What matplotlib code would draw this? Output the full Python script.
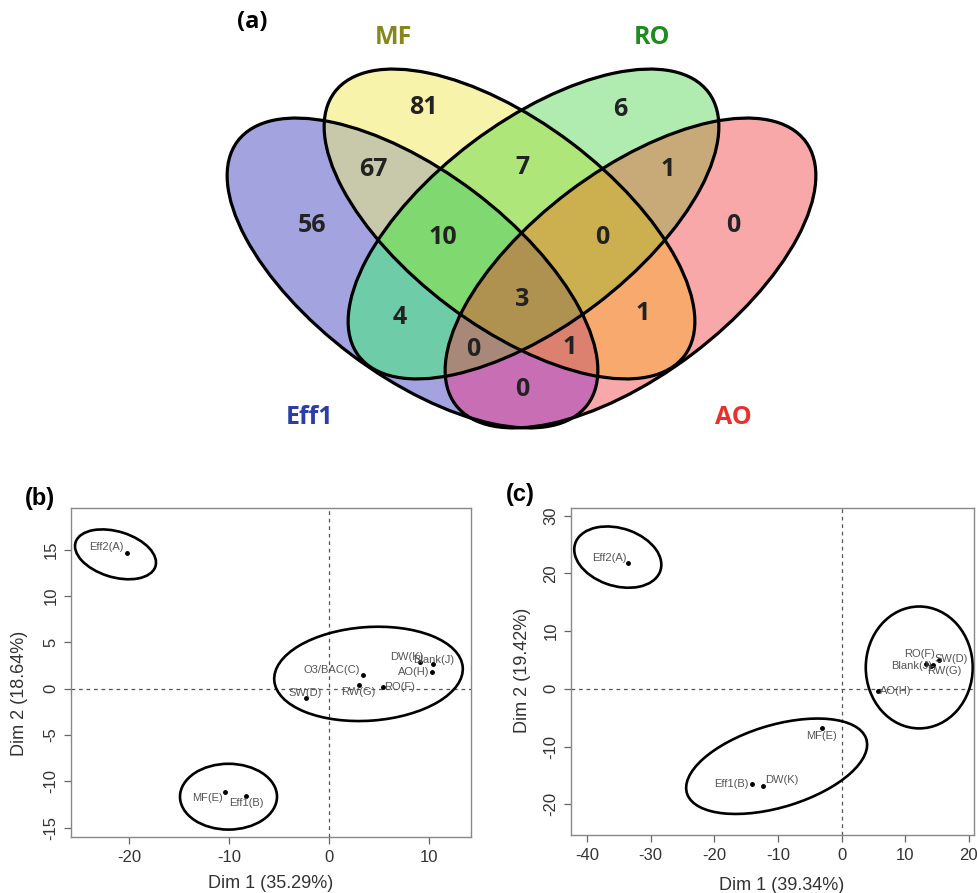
import matplotlib
matplotlib.use("Agg")
import matplotlib.pyplot as plt
from matplotlib.patches import Ellipse
from matplotlib.colors import to_rgba
import numpy as np

# ---------------- (a) Venn: counts per region ----------------
venn_sets = ["Eff1", "MF", "RO", "AO"]
venn_regions = ["Eff1", "MF", "RO", "AO",
                "Eff1&MF", "MF&RO", "RO&AO",
                "Eff1&MF&RO", "MF&RO&AO", "Eff1&RO", "MF&AO",
                "Eff1&MF&RO&AO", "Eff1&RO&AO", "Eff1&MF&AO", "Eff1&AO"]
venn_counts = [56, 81, 6, 0, 67, 7, 1, 10, 0, 4, 1, 3, 0, 1, 0]

# ---------------- (b) PCA ----------------
b_labels = ["Eff2(A)", "O3/BAC(C)", "DW(K)", "Blank(J)", "AO(H)",
            "RW(G)", "RO(F)", "SW(D)", "MF(E)", "Eff1(B)"]
b_x = [-20.2, 3.4, 9.1, 10.45, 10.3, 3.0, 5.45, -2.3, -10.35, -8.25]
b_y = [14.6, 1.5, 2.9, 2.65, 1.85, 0.4, 0.2, -1.0, -11.1, -11.6]
b_xlabel = "Dim 1 (35.29%)"
b_ylabel = "Dim 2 (18.64%)"

# ---------------- (c) PCA ----------------
c_labels = ["Eff2(A)", "MF(E)", "Eff1(B)", "DW(K)", "RO(F)",
            "SW(D)", "Blank(J)", "RW(G)", "AO(H)"]
c_x = [-33.5, -3.15, -14.1, -12.4, 14.35, 15.3, 13.2, 14.0, 5.65]
c_y = [21.8, -6.85, -16.5, -16.8, 4.2, 5.0, 4.3, 3.9, -0.4]
c_xlabel = "Dim 1 (39.34%)"
c_ylabel = "Dim 2 (19.42%)"

W, H = 978, 893
fig = plt.figure(figsize=(W / 100, H / 100), dpi=100)
fig.patch.set_facecolor("white")

VENN_FONT = ["Open Sans", "DejaVu Sans"]
R_FONT = ["Liberation Sans", "DejaVu Sans"]

# --- Venn, drawn in pixel coordinates ---
ax0 = fig.add_axes([0, 0, 1, 1])

ell_centres = [(412.5, 273), (509.5, 224), (533.5, 224), (630.5, 273)]
ell_angles = [37, 37, -37, -37]
EA, EB = 219, 102

# colour of every region, keyed by membership (Eff1, MF, RO, AO)
region_cols = {
    "1000": "#a3a3e0", "0100": "#f7f3aa", "0010": "#b0ebb0", "0001": "#f8a8a8",
    "1100": "#c8c8aa", "0110": "#aee67a", "0011": "#c8aa78",
    "1110": "#80d870", "0111": "#ccb050", "1010": "#6ecca8", "0101": "#f8aa6e",
    "1111": "#b09250", "1011": "#a88878", "1101": "#dc8070", "1001": "#c86eb4",
}
gx, gy = np.meshgrid(np.arange(W) + 0.5, np.arange(460) + 0.5)
masks = []
for (cx, cy), ang in zip(ell_centres, ell_angles):
    t = np.deg2rad(ang)
    dx, dy = gx - cx, gy - cy
    u = dx * np.cos(t) + dy * np.sin(t)
    v = -dx * np.sin(t) + dy * np.cos(t)
    masks.append((u / EA) ** 2 + (v / EB) ** 2 <= 1)
img = np.zeros(gx.shape + (4,))
for key, col in region_cols.items():
    sel = np.ones(gx.shape, bool)
    for m, bit in zip(masks, key):
        sel &= m if bit == "1" else ~m
    img[sel] = to_rgba(col)
ax0.imshow(img, extent=(0, W, 460, 0), interpolation="nearest",
           aspect="auto", zorder=0)
for (cx, cy), ang in zip(ell_centres, ell_angles):
    ax0.add_patch(Ellipse((cx, cy), 2 * EA, 2 * EB, angle=ang, fill=False,
                          edgecolor="black", linewidth=2.3, zorder=2))
ax0.set_xlim(0, W)
ax0.set_ylim(H, 0)
ax0.axis("off")

count_pos = [(312, 225), (423, 108), (620, 110), (733, 225),
             (373, 170), (522, 167), (668, 170),
             (443, 238), (602, 238), (400, 317), (643, 313),
             (522, 300), (473, 350), (570, 348), (522, 390)]
for n, (px, py) in zip(venn_counts, count_pos):
    ax0.text(px, py, str(n), ha="center", va="center", fontsize=18,
             fontweight="bold", color="#222222", family=VENN_FONT, zorder=3)

set_pos = [(310, 418), (393, 37), (652, 37), (733, 418)]
set_cols = ["#2b3ea8", "#86861c", "#1e8c1e", "#e8302c"]
for name, (px, py), col in zip(venn_sets, set_pos, set_cols):
    ax0.text(px, py, name, ha="center", va="center", fontsize=18,
             fontweight="bold", color=col, family=VENN_FONT)
ax0.text(252, 22, "(a)", ha="center", va="center", fontsize=17,
         fontweight="bold", color="black", family=VENN_FONT)


def pca_panel(rect, xs, ys, labels, offsets, ellipses, xlim, ylim,
              xticks, yticks):
    ax = fig.add_axes(rect)
    ax.set_xlim(*xlim)
    ax.set_ylim(*ylim)
    ax.axhline(0, color="#555555", lw=0.9, ls=(0, (3, 3)), zorder=1)
    ax.axvline(0, color="#555555", lw=0.9, ls=(0, (3, 3)), zorder=1)
    for (cx, cy, w, h, ang) in ellipses:
        ax.add_patch(Ellipse((cx, cy), w, h, angle=ang, fill=False,
                             edgecolor="black", linewidth=1.9, zorder=2))
    ax.plot(xs, ys, "o", color="black", markersize=2.5, zorder=3)
    for x, y, lab, (dx, dy, ha) in zip(xs, ys, labels, offsets):
        ax.annotate(lab, (x, y), xytext=(dx, dy), textcoords="offset pixels",
                    ha=ha, va="center", fontsize=8, color="#555555",
                    family=R_FONT, zorder=4)
    ax.set_xticks(xticks)
    ax.set_yticks(yticks)
    ax.set_xticklabels([str(t) for t in xticks], family=R_FONT)
    ax.set_yticklabels([str(t) for t in yticks], family=R_FONT,
                       rotation=90, va="center")
    ax.tick_params(direction="out", length=5, width=0.9, color="#666666",
                   labelsize=12, labelcolor="#333333", pad=4)
    for sp in ax.spines.values():
        sp.set_color("#888888")
        sp.set_linewidth(1.0)
    return ax


# (b)
b_offsets = [(-3, 6, "right"), (-3, 5, "right"), (4, 5, "right"),
             (0, 4, "center"), (-3, 0, "right"), (-1, -7, "center"),
             (1, 0, "left"), (-1, 5, "center"), (-3, -6, "right"),
             (0, -7, "center")]
b_ell = [(-21.35, 14.5, 8.4, 4.9, -19), (3.95, 1.6, 18.9, 10.1, 4.5),
         (-10.05, -11.65, 9.7, 7.1, 0)]
pca_panel([71 / W, 1 - 837 / H, 400 / W, 329 / H], b_x, b_y, b_labels,
          b_offsets, b_ell, (-25.8, 14.2), (-16.0, 19.5),
          [-20, -10, 0, 10], [-15, -10, -5, 0, 5, 10, 15])
fig.text(271 / W, 1 - 883 / H, b_xlabel, ha="center", va="center",
         fontsize=13, color="#333333", family=R_FONT)
fig.text(20 / W, 1 - 693 / H, b_ylabel, ha="center", va="center",
         fontsize=13, color="#333333", family=R_FONT, rotation=90)
fig.text(40 / W, 1 - 498 / H, "(b)", ha="center", va="center",
         fontsize=17, fontweight="bold", family=R_FONT)

# (c)
c_offsets = [(-2, 5, "right"), (0, -8, "center"), (-3, 0, "right"),
             (2, 6, "left"), (2, 11, "right"), (-4, 1, "left"),
             (7, -2, "right"), (-4, -5, "left"), (2, 0, "left")]
c_ell = [(-35.15, 22.8, 14.2, 9.9, -22), (-10.2, -13.4, 29.7, 14.1, 19.2),
         (12.2, 3.7, 16.8, 21.1, 0)]
pca_panel([571 / W, 1 - 835 / H, 403 / W, 327 / H], c_x, c_y, c_labels,
          c_offsets, c_ell, (-42.5, 20.8), (-25.3, 31.3),
          [-40, -30, -20, -10, 0, 10, 20], [-20, -10, 0, 10, 20, 30])
fig.text(782 / W, 1 - 885 / H, c_xlabel, ha="center", va="center",
         fontsize=13, color="#333333", family=R_FONT)
fig.text(523 / W, 1 - 670 / H, c_ylabel, ha="center", va="center",
         fontsize=13, color="#333333", family=R_FONT, rotation=90)
fig.text(520 / W, 1 - 495 / H, "(c)", ha="center", va="center",
         fontsize=17, fontweight="bold", family=R_FONT)

fig.savefig("out.png", dpi=100, facecolor="white")
